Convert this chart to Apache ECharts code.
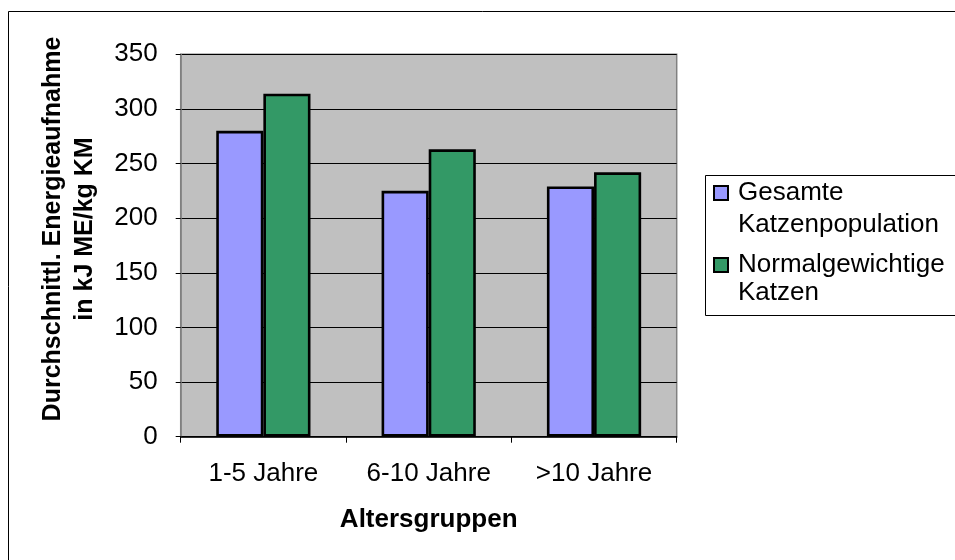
<!DOCTYPE html>
<html>
<head>
<meta charset="utf-8">
<script src="https://cdn.jsdelivr.net/npm/echarts@6/dist/echarts.min.js"></script>
<style>html,body{margin:0;padding:0;background:#fff}#c{width:955px;height:560px}</style>
</head>
<body>
<div id="c"></div>
<script>
var categories = ['1-5 Jahre', '6-10 Jahre', '>10 Jahre'];
var seriesNames = ['Gesamte\nKatzenpopulation', 'Normalgewichtige\nKatzen'];
var gesamt = [280, 225, 229];
var normal = [314, 263, 242];
var yTicks = [0, 50, 100, 150, 200, 250, 300, 350];
var yTitle = 'Durchschnittl. Energieaufnahme\nin kJ ME/kg KM';
var xTitle = 'Altersgruppen';

var FONT = "'Liberation Sans', Arial, sans-serif";
var colors = ['#9999ff', '#339966'];

var chart = echarts.init(document.getElementById('c'), null, {renderer: 'canvas'});
var option = {
  animation: false,
  textStyle: {fontFamily: FONT},
  grid: {
    left: 180.7, right: 278.3, top: 54.3, bottom: 123.3,
    show: true, backgroundColor: '#c0c0c0', borderColor: '#808080', borderWidth: 1.5,
    containLabel: false
  },
  xAxis: {
    type: 'category',
    data: categories,
    axisLine: {show: true, lineStyle: {color: '#000', width: 1.5}},
    axisTick: {show: true, length: 6, alignWithLabel: false, lineStyle: {color: '#000', width: 1}},
    axisLabel: {color: '#000', fontSize: 26, fontFamily: FONT, margin: 24},
    name: xTitle,
    nameLocation: 'middle',
    nameGap: 70,
    nameTextStyle: {color: '#000', fontSize: 26, fontWeight: 'bold', fontFamily: FONT}
  },
  yAxis: {
    type: 'value',
    min: yTicks[0], max: yTicks[yTicks.length - 1], interval: 50,
    axisLine: {show: true, lineStyle: {color: '#808080', width: 1.5}},
    axisTick: {show: true, length: 5, lineStyle: {color: '#000', width: 1}},
    axisLabel: {color: '#000', fontSize: 26, fontFamily: FONT, margin: 23},
    splitLine: {show: true, lineStyle: {color: '#000', width: 1}}
  },
  series: [
    {
      name: seriesNames[0], type: 'bar', data: gesamt,
      barGap: '0%', barCategoryGap: '43%',
      itemStyle: {color: colors[0], borderColor: '#000', borderWidth: 2.6}
    },
    {
      name: seriesNames[1], type: 'bar', data: normal,
      barGap: '0%', barCategoryGap: '43%',
      itemStyle: {color: colors[1], borderColor: '#000', borderWidth: 2.6}
    }
  ],
  graphic: [
    {type: 'rect', shape: {x: 8.5, y: 11.5, width: 1000, height: 700}, style: {fill: null, stroke: '#000', lineWidth: 1}, silent: true},
    {type: 'text', x: 69, y: 229, rotation: Math.PI / 2,
      style: {text: yTitle, align: 'center', verticalAlign: 'middle', font: 'bold 25px ' + FONT, lineHeight: 32, fill: '#000'}},
    {type: 'rect', shape: {x: 705.5, y: 175.5, width: 400, height: 140}, style: {fill: '#fff', stroke: '#000', lineWidth: 1}},
    {type: 'rect', shape: {x: 714, y: 186, width: 14, height: 14}, style: {fill: colors[0], stroke: '#000', lineWidth: 2}},
    {type: 'text', x: 738, y: 193, style: {text: seriesNames[0].split('\n')[0], verticalAlign: 'middle', font: '26px ' + FONT, fill: '#000'}},
    {type: 'text', x: 738, y: 225, style: {text: seriesNames[0].split('\n')[1], verticalAlign: 'middle', font: '26px ' + FONT, fill: '#000'}},
    {type: 'rect', shape: {x: 714, y: 258, width: 14, height: 14}, style: {fill: colors[1], stroke: '#000', lineWidth: 2}},
    {type: 'text', x: 738, y: 265, style: {text: seriesNames[1].split('\n')[0], verticalAlign: 'middle', font: '26px ' + FONT, fill: '#000'}},
    {type: 'text', x: 738, y: 293, style: {text: seriesNames[1].split('\n')[1], verticalAlign: 'middle', font: '26px ' + FONT, fill: '#000'}}
  ]
};
chart.setOption(option);
</script>
</body>
</html>
